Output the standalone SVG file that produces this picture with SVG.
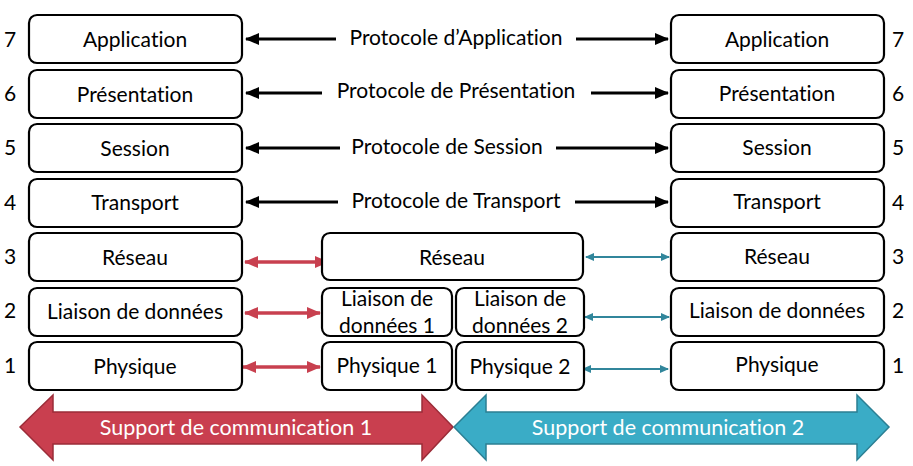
<svg xmlns="http://www.w3.org/2000/svg" width="913" height="466" viewBox="0 0 913 466">
<defs>
<style>
.box{fill:#fff;stroke:#000;stroke-width:2.2}
text{font-variant-ligatures:none}
.t{font-family:Lato,"Open Sans",sans-serif;font-size:21px;fill:#000;text-anchor:middle;dominant-baseline:central}
.n{font-family:Lato,"Open Sans",sans-serif;font-size:21px;fill:#000;text-anchor:middle;dominant-baseline:central}
.blk{stroke:#000;stroke-width:3;fill:none}
.red{stroke:#C8404F;stroke-width:3.5;fill:none}
.teal{stroke:#31869B;stroke-width:2;fill:none}
.big{font-family:Lato,"Open Sans",sans-serif;font-size:21.5px;fill:#fff;text-anchor:middle;dominant-baseline:central}
</style>
<marker id="ab" markerUnits="userSpaceOnUse" markerWidth="14" markerHeight="12" refX="13" refY="6" orient="auto-start-reverse"><path d="M0,0 L14,6 L0,12 z" fill="#000"/></marker>
<marker id="ar" markerUnits="userSpaceOnUse" markerWidth="14" markerHeight="12" refX="13" refY="6" orient="auto-start-reverse"><path d="M0,0 L14,6 L0,12 z" fill="#C8404F"/></marker>
<marker id="at" markerUnits="userSpaceOnUse" markerWidth="9" markerHeight="8" refX="8" refY="4" orient="auto-start-reverse"><path d="M0,0 L9,4 L0,8 z" fill="#31869B"/></marker>
</defs>

<g id="connectors">
<line class="blk" x1="246" y1="39" x2="336" y2="39" marker-start="url(#ab)"/>
<line class="blk" x1="576" y1="39" x2="668" y2="39" marker-end="url(#ab)"/>
<line class="blk" x1="246" y1="93" x2="322" y2="93" marker-start="url(#ab)"/>
<line class="blk" x1="591" y1="93" x2="668" y2="93" marker-end="url(#ab)"/>
<line class="blk" x1="246" y1="148" x2="340" y2="148" marker-start="url(#ab)"/>
<line class="blk" x1="556" y1="148" x2="668" y2="148" marker-end="url(#ab)"/>
<line class="blk" x1="246" y1="202" x2="338" y2="202" marker-start="url(#ab)"/>
<line class="blk" x1="575" y1="202" x2="668" y2="202" marker-end="url(#ab)"/>
<line class="red" x1="245" y1="262" x2="328" y2="262" marker-start="url(#ar)" marker-end="url(#ar)"/>
<line class="red" x1="245" y1="313" x2="320" y2="313" marker-start="url(#ar)" marker-end="url(#ar)"/>
<line class="red" x1="243" y1="367" x2="320" y2="367" marker-start="url(#ar)" marker-end="url(#ar)"/>
<line class="teal" x1="586" y1="257" x2="669" y2="257" marker-start="url(#at)" marker-end="url(#at)"/>
<line class="teal" x1="585" y1="317" x2="669" y2="317" marker-start="url(#at)" marker-end="url(#at)"/>
<line class="teal" x1="583" y1="369" x2="668" y2="369" marker-start="url(#at)" marker-end="url(#at)"/>
</g>

<g id="protocol-labels">
<text class="t" x="456" y="36">Protocole d’Application</text>
<text class="t" x="456" y="89">Protocole de Présentation</text>
<text class="t" x="447" y="145">Protocole de Session</text>
<text class="t" x="456" y="199">Protocole de Transport</text>
</g>

<g id="left-numbers">
<text class="n" x="10" y="38">7</text>
<text class="n" x="10" y="92">6</text>
<text class="n" x="10" y="146">5</text>
<text class="n" x="10" y="201">4</text>
<text class="n" x="10" y="255">3</text>
<text class="n" x="10" y="309">2</text>
<text class="n" x="10" y="364">1</text>
</g>
<g id="right-numbers">
<text class="n" x="898" y="38">7</text>
<text class="n" x="898" y="92">6</text>
<text class="n" x="898" y="146">5</text>
<text class="n" x="898" y="201">4</text>
<text class="n" x="898" y="255">3</text>
<text class="n" x="898" y="309">2</text>
<text class="n" x="898" y="364">1</text>
</g>

<g id="l7"><rect class="box" x="29" y="15" width="213" height="48" rx="8"/><text class="t" x="135" y="38">Application</text></g>
<g id="l6"><rect class="box" x="29" y="70" width="213" height="48" rx="8"/><text class="t" x="135" y="93">Présentation</text></g>
<g id="l5"><rect class="box" x="29" y="124" width="213" height="48" rx="8"/><text class="t" x="135" y="147">Session</text></g>
<g id="l4"><rect class="box" x="29" y="179" width="213" height="48" rx="8"/><text class="t" x="135" y="201">Transport</text></g>
<g id="l3"><rect class="box" x="29" y="233" width="213" height="48" rx="8"/><text class="t" x="135" y="256">Réseau</text></g>
<g id="l2"><rect class="box" x="29" y="288" width="213" height="48" rx="8"/><text class="t" x="135" y="310">Liaison de données</text></g>
<g id="l1"><rect class="box" x="29" y="342" width="213" height="48" rx="8"/><text class="t" x="135" y="365">Physique</text></g>

<g id="m3"><rect class="box" x="322" y="233" width="261" height="47" rx="8"/><text class="t" x="452" y="256">Réseau</text></g>
<g id="m2a"><rect class="box" x="322" y="288" width="130" height="48" rx="8"/><text class="t" x="387" y="297">Liaison de</text><text class="t" x="387" y="324">données 1</text></g>
<g id="m2b"><rect class="box" x="456" y="288" width="128" height="48" rx="8"/><text class="t" x="520" y="297">Liaison de</text><text class="t" x="520" y="324">données 2</text></g>
<g id="m1a"><rect class="box" x="322" y="342" width="130" height="48" rx="8"/><text class="t" x="387" y="364">Physique 1</text></g>
<g id="m1b"><rect class="box" x="456" y="342" width="128" height="48" rx="8"/><text class="t" x="520" y="365">Physique 2</text></g>

<g id="r7"><rect class="box" x="671" y="15" width="213" height="48" rx="8"/><text class="t" x="777" y="38">Application</text></g>
<g id="r6"><rect class="box" x="671" y="70" width="213" height="48" rx="8"/><text class="t" x="777" y="92">Présentation</text></g>
<g id="r5"><rect class="box" x="671" y="124" width="213" height="48" rx="8"/><text class="t" x="777" y="146">Session</text></g>
<g id="r4"><rect class="box" x="671" y="179" width="213" height="48" rx="8"/><text class="t" x="777" y="200">Transport</text></g>
<g id="r3"><rect class="box" x="671" y="233" width="213" height="48" rx="8"/><text class="t" x="777" y="255">Réseau</text></g>
<g id="r2"><rect class="box" x="671" y="288" width="213" height="48" rx="8"/><text class="t" x="777" y="309">Liaison de données</text></g>
<g id="r1"><rect class="box" x="671" y="342" width="213" height="48" rx="8"/><text class="t" x="777" y="363">Physique</text></g>

<g id="support1">
<path d="M20,427 L53,395 L53,412 L422,412 L422,395 L453,427 L422,460 L422,444 L53,444 L53,460 Z" fill="#C93F4F" stroke="#9B2C38" stroke-width="1.5"/>
<text class="big" x="236" y="427">Support de communication 1</text>
</g>
<g id="support2">
<path d="M454,427 L486,395 L486,412 L857,412 L857,395 L889,427 L857,460 L857,444 L486,444 L486,460 Z" fill="#3AACC6" stroke="#2B7F93" stroke-width="1.5"/>
<text class="big" x="668" y="427">Support de communication 2</text>
</g>
</svg>
